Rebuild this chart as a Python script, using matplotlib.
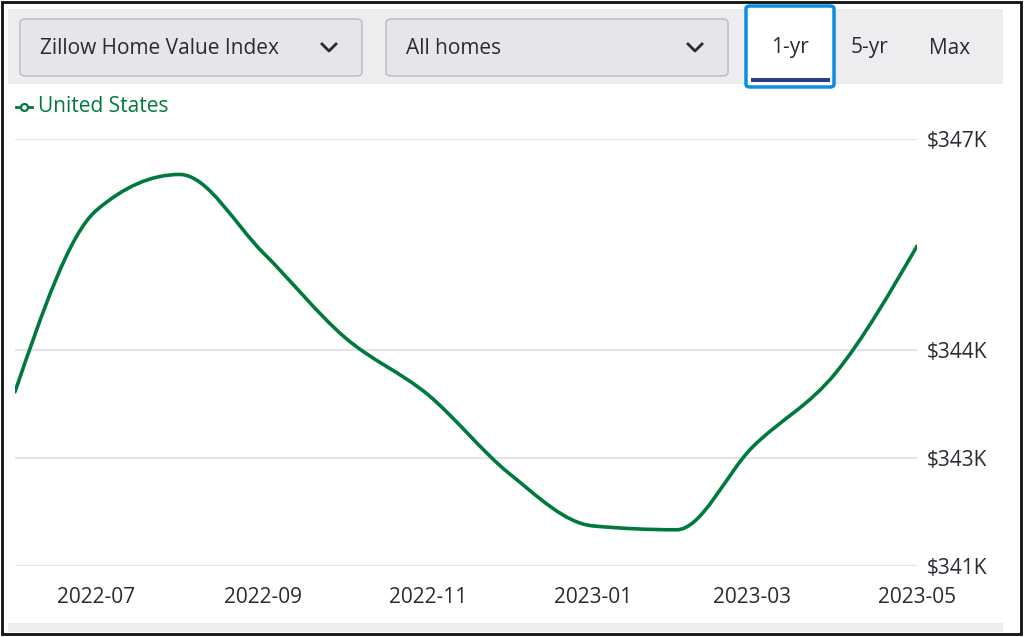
import numpy as np
import pandas as pd
import matplotlib
matplotlib.use("Agg")
import matplotlib.pyplot as plt
import matplotlib.dates as mdates
from matplotlib.path import Path
from matplotlib.patches import PathPatch, FancyBboxPatch, Rectangle

plt.rcParams['font.family'] = ['Open Sans', 'DejaVu Sans']

# === Data (Zillow Home Value Index, United States, $K) ===
months = pd.date_range("2022-06-01", "2023-05-01", freq="MS")
zhvi = [343.66, 346.01, 346.48, 345.46, 344.37, 343.62,
        342.60, 341.92, 341.87, 342.94, 343.91, 345.55]

y_ticks = [341.4, 342.8, 344.2, 346.94]
y_labels = ["$341K", "$343K", "$344K", "$347K"]
x_ticks = ["2022-07", "2022-09", "2022-11", "2023-01", "2023-03", "2023-05"]

GREEN = "#007a3c"
TEXT = "#2a2a33"
GRID = "#e4e4e8"


def monotone_path(x, y):
    # cubic bezier path like d3.curveMonotoneX
    x = np.asarray(x, float)
    y = np.asarray(y, float)
    n = len(x)
    h = np.diff(x)
    s = np.diff(y) / h
    t = np.zeros(n)
    for i in range(1, n - 1):
        if s[i - 1] * s[i] <= 0:
            t[i] = 0
        else:
            p = (s[i - 1] * h[i] + s[i] * h[i - 1]) / (h[i - 1] + h[i])
            t[i] = (np.sign(s[i - 1]) + np.sign(s[i])) * min(abs(s[i - 1]), abs(s[i]), 0.5 * abs(p))
    t[0] = (3 * s[0] - t[1]) / 2 if n > 2 else s[0]
    t[-1] = (3 * s[-1] - t[-2]) / 2 if n > 2 else s[-1]
    verts = [(x[0], y[0])]
    codes = [Path.MOVETO]
    for i in range(n - 1):
        dx = h[i] / 3
        verts += [(x[i] + dx, y[i] + dx * t[i]),
                  (x[i + 1] - dx, y[i + 1] - dx * t[i + 1]),
                  (x[i + 1], y[i + 1])]
        codes += [Path.CURVE4] * 3
    return Path(verts, codes)


W, H = 1024, 637
fig = plt.figure(figsize=(W / 100, H / 100), dpi=100)
fig.patch.set_facecolor("white")


def fx(px):
    return px / W


def fy(py):
    return 1 - py / H


# outer frame and gray bands
fig.patches.append(Rectangle((fx(2), fy(634)), fx(1019), 632 / H, transform=fig.transFigure,
                             facecolor="none", edgecolor="#111111", linewidth=2))
fig.patches.append(Rectangle((fx(8), fy(84)), fx(995), 75 / H, transform=fig.transFigure,
                             facecolor="#ededf0", edgecolor="none"))
fig.patches.append(Rectangle((fx(8), fy(632)), fx(995), 9 / H, transform=fig.transFigure,
                             facecolor="#ededf0", edgecolor="none"))

# dropdowns
for x0, x1, label in [(20, 362, "Zillow Home Value Index"), (386, 728, "All homes")]:
    fig.patches.append(FancyBboxPatch((fx(x0), fy(76)), fx(x1 - x0), 57 / H,
                                      boxstyle="round,pad=0,rounding_size=0.006",
                                      transform=fig.transFigure, facecolor="#e6e6ea",
                                      edgecolor="#b9b9c0", linewidth=1))
    fig.text(fx(x0 + 20), fy(49), label, fontsize=15, color=TEXT, va="center", ha="left")
    cx = x1 - 33
    fig.lines.append(plt.Line2D([fx(cx - 7), fx(cx), fx(cx + 7)], [fy(44), fy(51), fy(44)],
                                transform=fig.transFigure, color=TEXT, linewidth=2))

# time range buttons
fig.patches.append(FancyBboxPatch((fx(746), fy(87)), fx(88), 81 / H,
                                  boxstyle="round,pad=0,rounding_size=0.004",
                                  transform=fig.transFigure, facecolor="white",
                                  edgecolor="#0a8fe0", linewidth=2.5))
fig.patches.append(Rectangle((fx(751), fy(82)), fx(79), 4 / H, transform=fig.transFigure,
                             facecolor="#2a3a8c", edgecolor="none"))
fig.text(fx(790), fy(48), "1-yr", fontsize=15, color=TEXT, va="center", ha="center")
fig.text(fx(869), fy(48), "5-yr", fontsize=15, color=TEXT, va="center", ha="center")
fig.text(fx(950), fy(48), "Max", fontsize=15, color=TEXT, va="center", ha="center")

# legend
fig.lines.append(plt.Line2D([fx(16), fx(32)], [fy(107), fy(107)], transform=fig.transFigure,
                            color=GREEN, linewidth=2))
fig.lines.append(plt.Line2D([fx(24)], [fy(107)], transform=fig.transFigure, marker="o",
                            markersize=5, markerfacecolor="white", markeredgecolor=GREEN,
                            markeredgewidth=1.6, color=GREEN))
fig.text(fx(38), fy(106), "United States", fontsize=15, color=GREEN, va="center", ha="left")

# chart
ax = fig.add_axes([fx(15), fy(566), fx(917 - 15), (566 - 139) / H])
xnum = mdates.date2num(months)
ax.add_patch(PathPatch(monotone_path(xnum, zhvi), facecolor="none", edgecolor=GREEN,
                       linewidth=2.6, capstyle="round"))
ax.set_xlim(xnum[0], xnum[-1])
ax.set_ylim(y_ticks[0], y_ticks[-1])
ax.set_yticks(y_ticks)
ax.set_yticklabels(y_labels)
ax.yaxis.tick_right()
ax.set_xticks(mdates.date2num(pd.to_datetime(x_ticks)))
ax.set_xticklabels(x_ticks)
ax.tick_params(axis="both", length=0, labelsize=15, labelcolor=TEXT)
ax.tick_params(axis="x", pad=15)
ax.tick_params(axis="y", pad=7)
ax.grid(axis="y", color=GRID, linewidth=1.5)
ax.set_axisbelow(True)
for sp in ax.spines.values():
    sp.set_visible(False)
ax.patch.set_alpha(0)

fig.savefig("out.png", dpi=100)
